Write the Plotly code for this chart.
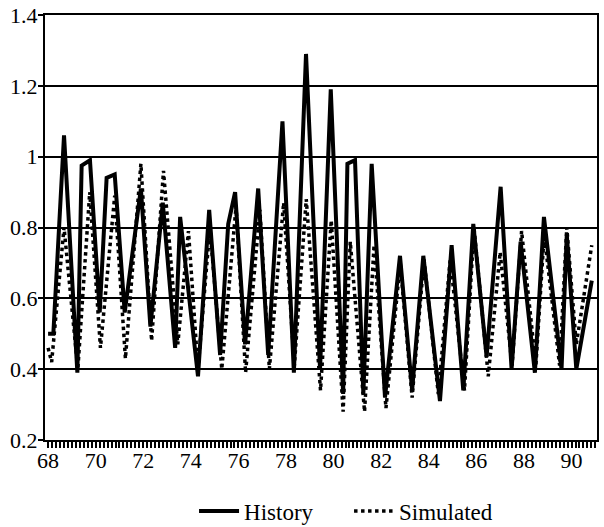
import plotly.graph_objects as go

# Quarterly-ish turning points of the ratio, in decimal years (19xx)
hist_year = [68.00, 68.22, 68.67, 69.23, 69.41, 69.76, 70.17, 70.46, 70.80, 71.22,
             71.90, 72.30, 72.82, 73.34, 73.55, 74.30, 74.77, 75.23, 75.57, 75.86,
             76.28, 76.83, 77.25, 77.85, 78.33, 78.84, 79.43, 79.88, 80.40, 80.58,
             80.90, 81.25, 81.60, 81.78, 82.16, 82.79, 83.30, 83.77, 84.47, 84.96,
             85.45, 85.87, 86.43, 87.02, 87.48, 87.86, 88.46, 88.84, 89.58, 89.80,
             90.20, 90.85]
hist_val = [0.50, 0.50, 1.06, 0.39, 0.975, 0.99, 0.56, 0.94, 0.95, 0.56,
            0.91, 0.52, 0.87, 0.46, 0.83, 0.38, 0.85, 0.44, 0.81, 0.90,
            0.47, 0.91, 0.44, 1.10, 0.39, 1.29, 0.40, 1.19, 0.33, 0.98,
            0.99, 0.33, 0.98, 0.76, 0.32, 0.72, 0.34, 0.72, 0.31, 0.75,
            0.34, 0.81, 0.435, 0.915, 0.40, 0.76, 0.39, 0.83, 0.40, 0.78,
            0.40, 0.65]

sim_year = [68.00, 68.15, 68.67, 69.25, 69.75, 70.20, 70.80, 71.25, 71.90, 72.35,
            72.85, 73.45, 73.90, 74.30, 74.80, 75.30, 75.90, 76.30, 76.90, 77.30,
            77.90, 78.35, 78.85, 79.45, 79.90, 80.40, 80.70, 81.30, 81.70, 82.20,
            82.80, 83.30, 83.80, 84.40, 84.90, 85.50, 85.90, 86.50, 87.00, 87.50,
            87.90, 88.50, 88.85, 89.50, 89.80, 90.20, 90.85]
sim_val = [0.46, 0.42, 0.80, 0.40, 0.90, 0.46, 0.89, 0.43, 0.98, 0.48,
           0.96, 0.47, 0.79, 0.40, 0.80, 0.40, 0.86, 0.39, 0.85, 0.40,
           0.87, 0.41, 0.88, 0.34, 0.82, 0.28, 0.76, 0.28, 0.75, 0.29,
           0.70, 0.32, 0.71, 0.33, 0.71, 0.34, 0.80, 0.38, 0.73, 0.41,
           0.79, 0.41, 0.78, 0.41, 0.80, 0.47, 0.75]

x_ticks = [68, 70, 72, 74, 76, 78, 80, 82, 84, 86, 88, 90]
y_ticks = [0.2, 0.4, 0.6, 0.8, 1.0, 1.2, 1.4]
y_labels = ["0.2", "0.4", "0.6", "0.8", "1", "1.2", "1.4"]

serif = "Liberation Serif"

fig = go.Figure()
fig.add_trace(go.Scatter(
    x=hist_year, y=hist_val, name="History", mode="lines",
    line=dict(color="black", width=4)))
fig.add_trace(go.Scatter(
    x=sim_year, y=sim_val, name="Simulated", mode="lines",
    line=dict(color="black", width=3.5, dash="dot")))

fig.update_layout(
    width=604, height=527,
    margin=dict(l=45, r=7, t=15, b=87, autoexpand=False),
    paper_bgcolor="white", plot_bgcolor="white",
    font=dict(family=serif, size=22, color="black"),
    showlegend=True,
    legend=dict(orientation="h", x=0.27, xanchor="left", y=-0.167,
                yanchor="middle", font=dict(family=serif, size=23),
                itemwidth=40, entrywidth=100, entrywidthmode="pixels",
                bgcolor="rgba(0,0,0,0)"),
)
fig.update_xaxes(
    range=[67.87, 91.07], tickvals=x_ticks, ticktext=[str(v) for v in x_ticks],
    showgrid=False, zeroline=False,
    showline=True, linecolor="black", linewidth=2, mirror=True,
    ticks="outside", ticklen=6, tickwidth=1.5, tickcolor="black",
    ticklabelstandoff=-6,
    minor=dict(dtick=1 / 6, tick0=68, ticks="outside", ticklen=6,
               tickwidth=1.5, tickcolor="black", showgrid=False),
    tickfont=dict(family=serif, size=22),
)
fig.update_yaxes(
    range=[0.2, 1.4], tickvals=y_ticks, ticktext=y_labels,
    showgrid=True, gridcolor="black", gridwidth=2, zeroline=False,
    showline=True, linecolor="black", linewidth=2, mirror=True,
    ticks="outside", ticklen=5, tickwidth=2, tickcolor="black",
    ticklabelstandoff=-4,
    tickfont=dict(family=serif, size=22),
)

fig.write_html("out.html")
